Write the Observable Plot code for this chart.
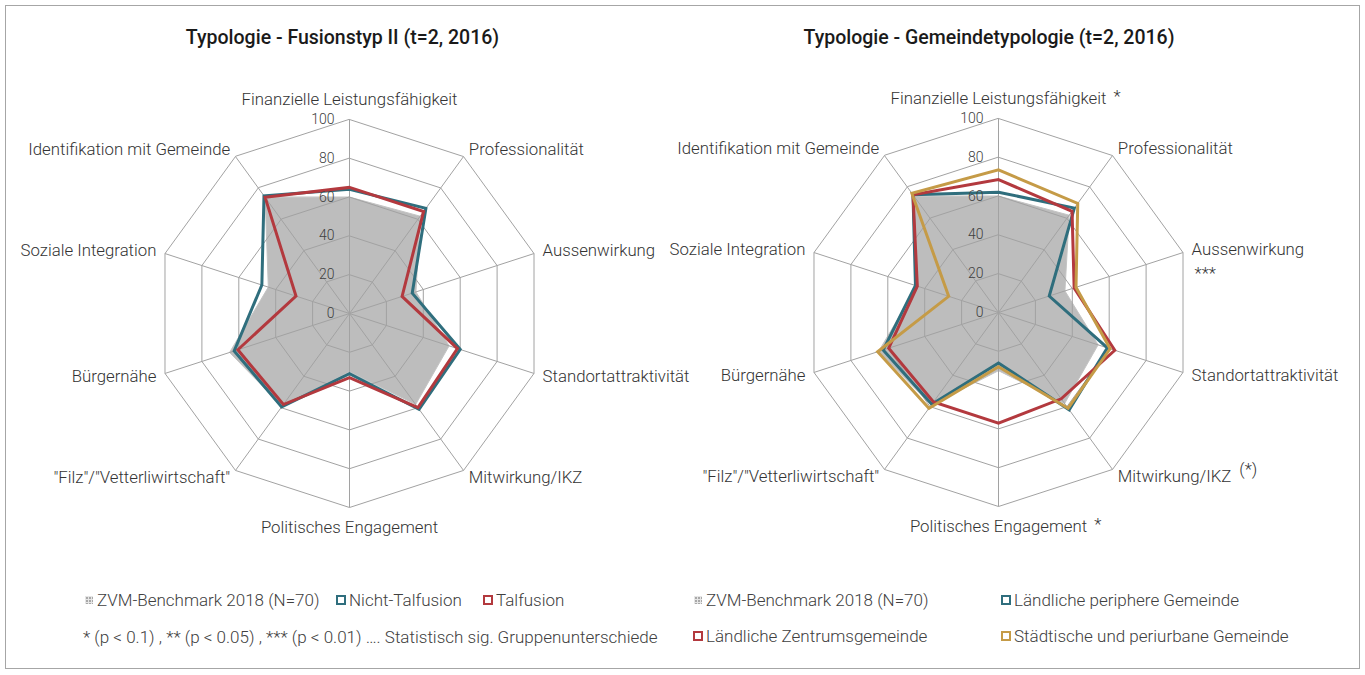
<!DOCTYPE html>
<html>
<head>
<meta charset="utf-8">
<script src="https://cdn.jsdelivr.net/npm/d3@7"></script>
<script src="https://cdn.jsdelivr.net/npm/@observablehq/plot@0.6"></script>
<style>
  body { margin: 0; background: #fff; font-family: Roboto, "Noto Sans", sans-serif; }
  #root { position: relative; width: 1365px; height: 675px; overflow: hidden; background: #fff; }
  .frame { position: absolute; left: 5px; top: 5px; width: 1355px; height: 664px; border: 1px solid #a6a6a6; box-sizing: border-box; }
  .title { position: absolute; font-weight: 500; font-size: 19.5px; color: #1a1a1a; transform: translate(-50%, -50%); white-space: nowrap; }
  .chart { position: absolute; }
  .leg { position: absolute; font-size: 17px; font-weight: 300; color: #404040; white-space: nowrap; display: flex; align-items: center; transform: translateY(-50%); }
  .sw { width: 6px; height: 6px; border: 2.5px solid; background: #fff; margin-right: 3px; }
  .bm { width: 8px; height: 8px; margin-right: 4px; background-color: #a8a8a8;
        background-image: linear-gradient(#e6e6e6 1px, transparent 1px), linear-gradient(90deg, #e6e6e6 1px, transparent 1px);
        background-size: 3px 3px; }
</style>
</head>
<body>
<div id="root">
  <div class="frame"></div>
</div>
<script>
// ---------- data ----------
const axes = [
  "Finanzielle Leistungsfähigkeit",
  "Professionalität",
  "Aussenwirkung",
  "Standortattraktivität",
  "Mitwirkung/IKZ",
  "Politisches Engagement",
  "\"Filz\"/\"Vetterliwirtschaft\"",
  "Bürgernähe",
  "Soziale Integration",
  "Identifikation mit Gemeinde"
];
const ticks = [0, 20, 40, 60, 80, 100];

const benchmark        = [60, 62, 36, 54, 58, 30, 59, 65, 44, 74];
// left chart (Fusionstyp II)
const nichtTalfusion   = [64, 67, 34, 60, 61, 31, 59.5, 62.5, 47.5, 75];
const talfusion        = [65, 65, 28.5, 58.5, 60, 33, 58, 60.5, 29, 74];
// right chart (Gemeindetypologie)
const laendlichPeripher = [62, 66.5, 27.5, 59, 62, 26, 58.5, 62.5, 45, 75];
const laendlichZentrum  = [68.5, 64.5, 41, 63, 55, 57, 57, 59.5, 44, 75];
const staedtisch        = [73.5, 69.5, 42, 60.5, 61, 28, 61, 65.5, 27, 76];

const sigLeft  = ["", "", "", "", "", "", "", "", "", ""];
const sigRight = ["*", "", "***", "", "(*)", "*", "", "", "", ""];

const titles = ["Typologie - Fusionstyp II (t=2, 2016)", "Typologie - Gemeindetypologie (t=2, 2016)"];
const benchName = "ZVM-Benchmark 2018 (N=70)";
const leftNames = ["Nicht-Talfusion", "Talfusion"];
const rightNames = ["Ländliche periphere Gemeinde", "Ländliche Zentrumsgemeinde", "Städtische und periurbane Gemeinde"];
const note = "* (p < 0.1) , ** (p < 0.05) , *** (p < 0.01) …. Statistisch sig. Gruppenunterschiede";

const BLUE = "#2f6e7d", RED = "#b3393e", GOLD = "#c59b47";

// ---------- helpers ----------
const K = 1.94;          // pixels per unit of value
const W = 680, H = 500;  // svg size
const LF = 16.8;         // label font size
const N = axes.length;
const ang = i => i * 2 * Math.PI / N;
const toXY = (i, v) => ({x: v * Math.sin(ang(i)), y: v * Math.cos(ang(i))});
const polygon = (vals, name) => vals.map((v, i) => ({series: name, axis: axes[i], value: v, ...toXY(i, v)}));
const ctx = document.createElement("canvas").getContext("2d");
const measure = (t, font) => { ctx.font = font; return ctx.measureText(t).width; };

function radar(series, sig) {
  const rings = ticks.filter(t => t > 0).flatMap(t => axes.map((a, i) => ({ring: t, ...toXY(i, t)})));
  const spokes = axes.map((a, i) => ({axis: a, ...toXY(i, 100)}));
  const labels = axes.map((a, i) => {
    const vertical = (i === 0 || i === N / 2);
    const off = vertical ? 20 : 9;
    const side = vertical ? "middle" : (i < N / 2 ? "start" : "end");
    return {label: a, side, i, ...toXY(i, 100 + off / K)};
  });
  const labelFont = `300 ${LF}px Roboto`;
  const sigData = [];
  sig.forEach((s, i) => {
    if (!s) return;
    const L = labels[i];
    const w = measure(L.label, labelFont);
    const px = L.x * K, py = L.y * K;
    if (s === "***") {
      sigData.push({text: s, x: (px + 3) / K, y: (py - 24) / K});
    } else {
      const endX = L.side === "start" ? px + w : L.side === "middle" ? px + w / 2 : px;
      const raise = s === "(*)" ? 7 : 2;
      const gap = s === "(*)" ? 8 : 7;
      sigData.push({text: s, x: (endX + gap) / K, y: (py + raise) / K});
    }
  });

  const marks = [
    Plot.line(polygon(benchmark, "bench"), {x: "x", y: "y", curve: "linear-closed", fill: "#bdbdbd", stroke: "#c4c4c4", strokeWidth: 1}),
    Plot.line(rings, {x: "x", y: "y", z: "ring", curve: "linear-closed", stroke: "#a2a2a2", strokeWidth: 1, strokeLinejoin: "miter"}),
    Plot.link(spokes, {x1: d => 0, y1: d => 0, x2: "x", y2: "y", stroke: "#a2a2a2", strokeWidth: 1}),
    ...series.map(s => Plot.line(polygon(s.values, s.name), {
      x: "x", y: "y", curve: "linear-closed", stroke: s.color, strokeWidth: 3,
      strokeLinejoin: "miter", strokeMiterlimit: 4
    })),
    Plot.text(ticks, {x: d => 0, y: d => d, text: d => String(d), textAnchor: "end", dx: -15, fontSize: 14, fill: "#404040", fontWeight: 300}),
    Plot.text(labels.filter(d => d.side === "middle"), {x: "x", y: "y", text: "label", textAnchor: "middle", fontSize: LF, fontWeight: 300, fill: "#333"}),
    Plot.text(labels.filter(d => d.side === "start"), {x: "x", y: "y", text: "label", textAnchor: "start", fontSize: LF, fontWeight: 300, fill: "#333"}),
    Plot.text(labels.filter(d => d.side === "end"), {x: "x", y: "y", text: "label", textAnchor: "end", fontSize: LF, fontWeight: 300, fill: "#333"}),
    Plot.text(sigData, {x: "x", y: "y", text: "text", textAnchor: "start", fontSize: LF, fontWeight: 300, fill: "#333"})
  ];

  return Plot.plot({
    width: W, height: H, margin: 0,
    x: {domain: [-W / 2 / K, W / 2 / K], axis: null},
    y: {domain: [-H / 2 / K, H / 2 / K], axis: null},
    style: {background: "transparent", overflow: "visible", fontFamily: "Roboto, sans-serif", color: "#333"},
    marks
  });
}

const root = document.getElementById("root");
function place(el, left, top) {
  el.classList.add("chart");
  el.style.left = left + "px";
  el.style.top = top + "px";
  root.appendChild(el);
}

const c1 = radar([
  {name: leftNames[0], values: nichtTalfusion, color: BLUE},
  {name: leftNames[1], values: talfusion, color: RED}
], sigLeft);
place(c1, 348.5 - W / 2, 312.5 - H / 2);

const c2 = radar([
  {name: rightNames[0], values: laendlichPeripher, color: BLUE},
  {name: rightNames[1], values: laendlichZentrum, color: RED},
  {name: rightNames[2], values: staedtisch, color: GOLD}
], sigRight);
place(c2, 998.3 - W / 2, 311.5 - H / 2);

// titles
[[titles[0], 342.5], [titles[1], 989]].forEach(([t, x]) => {
  const d = document.createElement("div");
  d.className = "title"; d.textContent = t;
  d.style.left = x + "px"; d.style.top = "37px";
  root.appendChild(d);
});

// legends
function legendItem(x, y, label, color) {
  const d = document.createElement("div");
  d.className = "leg";
  d.style.left = x + "px"; d.style.top = y + "px";
  if (color !== undefined) {
    const s = document.createElement("span");
    if (color === null) s.className = "bm";
    else { s.className = "sw"; s.style.borderColor = color; }
    d.appendChild(s);
  }
  const t = document.createElement("span");
  t.textContent = label;
  d.appendChild(t);
  root.appendChild(d);
}
legendItem(85, 600, benchName, null);
legendItem(336, 600, leftNames[0], BLUE);
legendItem(483, 600, leftNames[1], RED);
legendItem(83, 637, note);

legendItem(694, 600, benchName, null);
legendItem(1001, 600, rightNames[0], BLUE);
legendItem(693, 636, rightNames[1], RED);
legendItem(1001, 636, rightNames[2], GOLD);
</script>
</body>
</html>
